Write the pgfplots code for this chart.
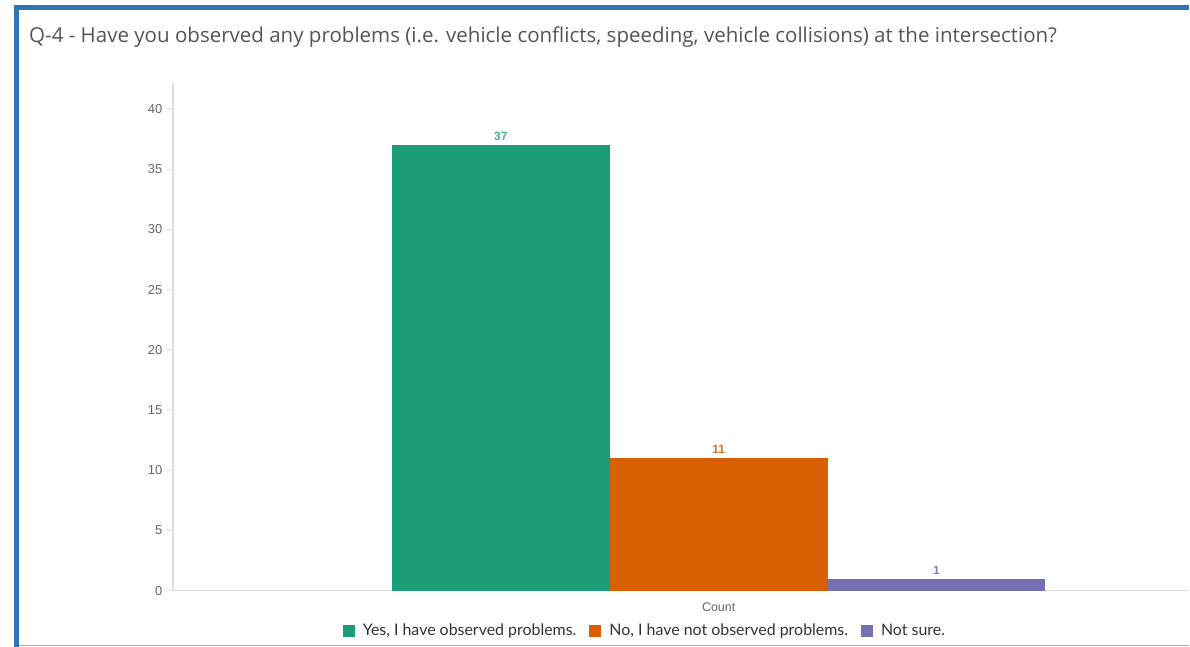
\documentclass[border=0pt]{standalone}
\usepackage{fontspec}
\setmainfont{Liberation Sans}
\newfontfamily\titlefont{Open Sans}
\newfontfamily\legfont{Lato}
\usepackage{pgfplots}
\pgfplotsset{compat=1.18}
\definecolor{cg}{HTML}{1B9E77}
\definecolor{co}{HTML}{D95F02}
\definecolor{cp}{HTML}{7570B3}
\definecolor{frameblue}{HTML}{2E75B6}
\definecolor{lightblue}{HTML}{8FB4D9}
\definecolor{axgray}{HTML}{DDDDDD}
\definecolor{ticktext}{HTML}{666666}
\definecolor{titletext}{HTML}{555555}
\begin{document}
\begin{tikzpicture}[x=1bp,y=1bp]
\path[fill=white] (0,0) rectangle (1190,647);
\fill[frameblue] (14,0) rectangle (19,642);
\fill[frameblue] (14,637) rectangle (1190,642);
\fill[lightblue] (19,0.5) rectangle (1190,1.8);
\node[anchor=base west, inner sep=0pt, font=\titlefont\fontsize{20.6}{24}\selectfont, text=titletext] at (29,604) {Q-4 - Have you observed any problems (i.e. vehicle conflicts, speeding, vehicle collisions) at the intersection?};
\begin{axis}[
  at={(173bp,56bp)}, anchor=south west, scale only axis,
  width=1017bp, height=508bp,
  xmin=-2.505, xmax=2.16, ymin=0, ymax=42.16,
  axis x line*=bottom, axis y line*=left,
  axis line style={draw=axgray, line width=1.5bp, -},
  ybar, bar width=218bp,
  ytick={0,5,...,40},
  xtick={0}, xticklabels={Count},
  /pgf/number format/assume math mode=true,
  tick align=outside, major tick length=6bp,
  y tick style={draw=axgray, line width=1bp},
  x tick style={draw=none},
  yticklabel style={font=\fontsize{13}{15}\selectfont, text=ticktext, xshift=-1bp},
  xticklabel style={font=\fontsize{12.5}{14}\selectfont, text=ticktext, yshift=-3bp},
  clip=false,
  legend columns=3,
  legend style={at={(rel axis cs:0.4635,-0.0787)}, anchor=center, draw=none, fill=none,
    font=\legfont\fontsize{16}{18}\selectfont, text=black!80,
    /tikz/every odd column/.append style={column sep=8bp},
    /tikz/every even column/.append style={column sep=13bp},
    nodes={inner xsep=0bp, inner ysep=1bp}},
  nodes near coords,
  nodes near coords style={font=\bfseries\fontsize{12}{14}\selectfont, yshift=1bp},
]
\addplot[bar shift=0pt, fill=cg, draw=none, nodes near coords style={text=cg!80}, legend image code/.code={\fill[cg] (0bp,-6bp) rectangle (12bp,6bp);}] coordinates {(-1,37)};
\addlegendentry{Yes, I have observed problems.}
\addplot[bar shift=0pt, fill=co, draw=none, nodes near coords style={text=co!90}, legend image code/.code={\fill[co] (0bp,-6bp) rectangle (12bp,6bp);}] coordinates {(0,11)};
\addlegendentry{No, I have not observed problems.}
\addplot[bar shift=0pt, fill=cp, draw=none, nodes near coords style={text=cp!90}, legend image code/.code={\fill[cp] (0bp,-6bp) rectangle (12bp,6bp);}] coordinates {(1,1)};
\addlegendentry{Not sure.}
\end{axis}
\end{tikzpicture}
\end{document}
